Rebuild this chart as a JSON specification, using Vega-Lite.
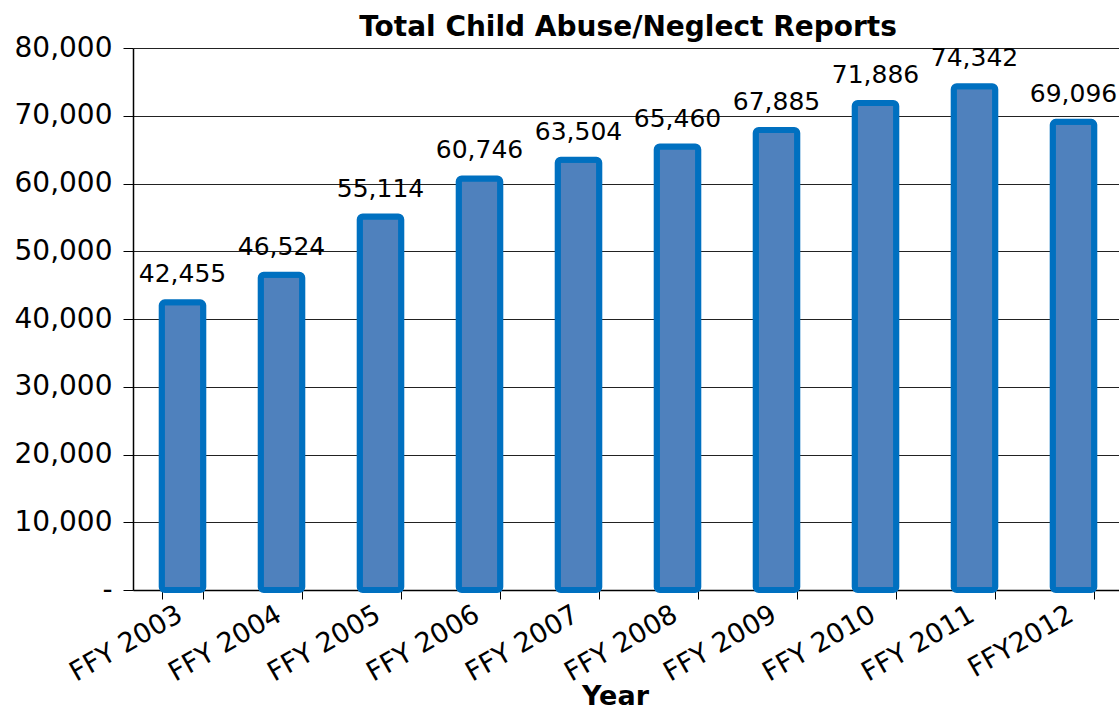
{
  "$schema": "https://vega.github.io/schema/vega-lite/v6.json",
  "autosize": {"type": "none"},
  "width": 990,
  "height": 542,
  "padding": {"left": 133, "top": 48, "right": 0, "bottom": 120},
  "background": "white",
  "config": {
    "font": "DejaVu Sans",
    "view": {"stroke": null}
  },
  "title": {
    "text": "Total Child Abuse/Neglect Reports",
    "font": "DejaVu Sans",
    "fontSize": 28,
    "fontWeight": "bold",
    "color": "black",
    "anchor": "middle",
    "offset": -8
  },
  "data": {
    "values": [
      {"year": "FFY 2003", "reports": 42455},
      {"year": "FFY 2004", "reports": 46524},
      {"year": "FFY 2005", "reports": 55114},
      {"year": "FFY 2006", "reports": 60746},
      {"year": "FFY 2007", "reports": 63504},
      {"year": "FFY 2008", "reports": 65460},
      {"year": "FFY 2009", "reports": 67885},
      {"year": "FFY 2010", "reports": 71886},
      {"year": "FFY 2011", "reports": 74342},
      {"year": "FFY2012", "reports": 69096}
    ]
  },
  "encoding": {
    "x": {
      "field": "year",
      "type": "nominal",
      "sort": null,
      "scale": {"paddingInner": 0.58, "paddingOuter": 0.29},
      "axis": {
        "title": "Year",
        "titleFontSize": 27,
        "titleFontWeight": "bold",
        "titleColor": "black",
        "titlePadding": -2,
        "titleX": 482,
        "labelAngle": -30,
        "labelAlign": "right",
        "labelBaseline": "top",
        "labelFontSize": 27,
        "labelColor": "black",
        "labelPadding": 2,
        "labelOffset": -9,
        "tickBand": "extent",
        "tickColor": "black",
        "tickSize": 9,
        "domainColor": "black",
        "domainWidth": 1.5,
        "grid": false
      }
    },
    "y": {
      "field": "reports",
      "type": "quantitative",
      "scale": {"domain": [0, 80000], "nice": false},
      "axis": {
        "title": null,
        "values": [0, 10000, 20000, 30000, 40000, 50000, 60000, 70000, 80000],
        "labelExpr": "datum.value == 0 ? '-' : format(datum.value, ',')",
        "labelFontSize": 28,
        "labelColor": "black",
        "labelPadding": 11,
        "tickColor": "black",
        "tickSize": 10,
        "domainColor": "black",
        "domainWidth": 1.5,
        "gridColor": "#222222",
        "gridWidth": 1
      }
    }
  },
  "layer": [
    {
      "mark": {
        "type": "bar",
        "fill": "#4F81BD",
        "stroke": "#0070C0",
        "strokeWidth": 6,
        "cornerRadius": 3
      },
      "encoding": {
        "y": {"field": "reports", "type": "quantitative"}
      }
    },
    {
      "mark": {
        "type": "text",
        "fontSize": 25,
        "color": "black",
        "baseline": "bottom",
        "dy": -15
      },
      "encoding": {
        "text": {"field": "reports", "type": "quantitative", "format": ","}
      }
    }
  ]
}
